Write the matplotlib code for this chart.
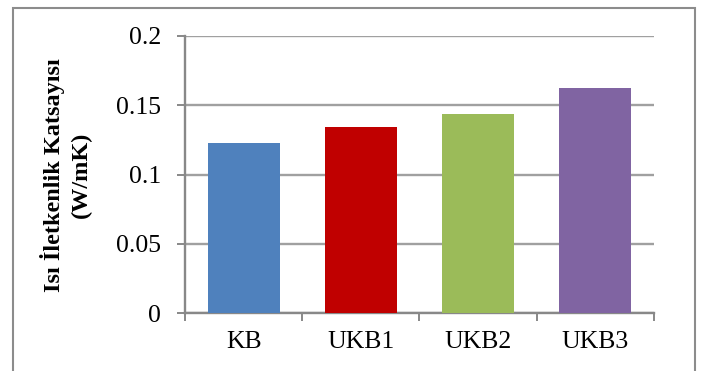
import matplotlib.pyplot as plt
from matplotlib.patches import Rectangle

plt.rcParams['font.family'] = ['Liberation Serif', 'DejaVu Serif']

# thermal conductivity per sample
samples = ['KB', 'UKB1', 'UKB2', 'UKB3']
conductivity = [0.123, 0.1345, 0.144, 0.1625]
bar_colors = ['#4F81BD', '#C00000', '#9BBB59', '#8064A2']
y_ticks = [0, 0.05, 0.1, 0.15, 0.2]
y_tick_labels = ['0', '0.05', '0.1', '0.15', '0.2']

fig = plt.figure(figsize=(7.05, 3.71), dpi=100)
ax = fig.add_axes([0.2624, 0.1555, 0.6652, 0.7475])

x = range(len(samples))
ax.bar(x, conductivity, width=0.614, color=bar_colors, zorder=3)

ax.set_xlim(-0.5, len(samples) - 0.5)
ax.set_ylim(0, 0.2)
ax.set_yticks(y_ticks)
ax.set_yticklabels(y_tick_labels)
ax.grid(axis='y', color='#a0a0a0', linewidth=1.7, zorder=0)

# ticks sit on the category boundaries, labels in the middle
ax.set_xticks([i - 0.5 for i in range(len(samples) + 1)])
ax.set_xticklabels([])
ax.set_xticks(list(x), minor=True)
ax.set_xticklabels(samples, minor=True)
ax.tick_params(axis='x', which='major', direction='out', length=5.8, width=1.4, color='#888888')
ax.tick_params(axis='x', which='minor', length=0, pad=13, labelsize=18.5)
ax.tick_params(axis='y', direction='out', length=5.8, width=1.4, color='#888888', pad=11.5, labelsize=18.5)

for side in ['top', 'right']:
    ax.spines[side].set_visible(False)
for side in ['left', 'bottom']:
    ax.spines[side].set_color('#888888')
    ax.spines[side].set_linewidth(1.7)

ax.set_ylabel('Isı İletkenlik Katsayısı\n(W/mK)', fontsize=17.5, fontweight='bold',
              linespacing=1.4, labelpad=17)

# chart frame
fig.patches.append(Rectangle((13 / 705, -0.1), (695 - 13) / 705, 1.1 - 8 / 371,
                             transform=fig.transFigure, fill=False,
                             edgecolor='#8c8c8c', linewidth=1.5))

fig.savefig('out.png', dpi=100)
